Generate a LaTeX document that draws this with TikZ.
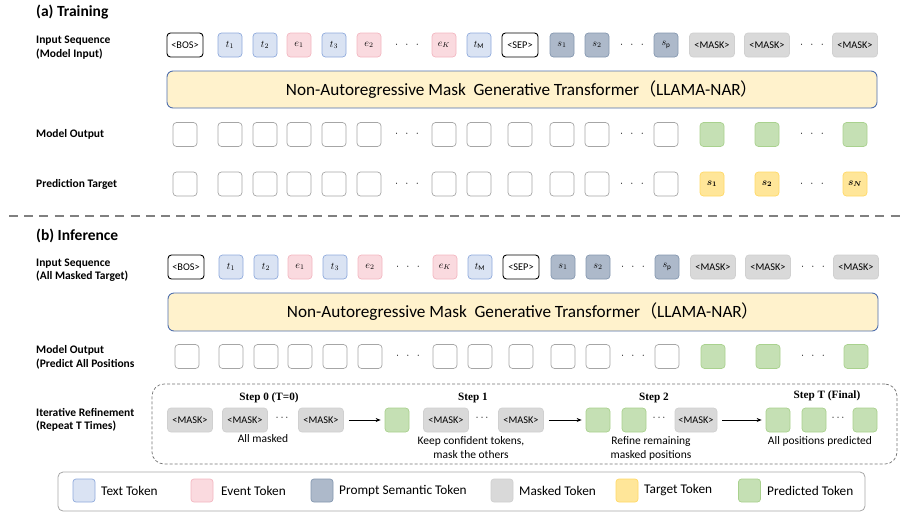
\documentclass[tikz,border=0pt]{standalone}
\usepackage{amsmath}
\usepackage{bm}
\usepackage{fontspec}
\setmainfont{Carlito}
\newfontfamily\cjk{Noto Sans CJK SC}
\newfontfamily\serifb{Liberation Serif}
\usetikzlibrary{arrows.meta}
\definecolor{tfill}{HTML}{DAE3F3}\definecolor{tdraw}{HTML}{8FAADC}
\definecolor{efill}{HTML}{FADADF}\definecolor{edraw}{HTML}{F3B7C1}
\definecolor{pfill}{HTML}{ADB9CA}\definecolor{pdraw}{HTML}{8497B0}
\definecolor{mfill}{HTML}{D9D9D9}\definecolor{mdraw}{HTML}{D0D0D0}
\definecolor{yfill}{HTML}{FFE699}\definecolor{ydraw}{HTML}{FFD966}
\definecolor{gfill}{HTML}{C5E0B4}\definecolor{gdraw}{HTML}{A9D18E}
\definecolor{edgegray}{HTML}{A6A6A6}
\definecolor{nfill}{HTML}{FFF2CC}\definecolor{ndraw}{HTML}{4F6FAD}
\tikzset{
  tok/.style={rectangle, rounded corners=3.5pt, minimum width=24pt, minimum height=24pt, inner sep=0pt, line width=0.7pt, font=\fontsize{10.3}{11}\selectfont},
  txtok/.style={tok, fill=tfill, draw=tdraw},
  evtok/.style={tok, fill=efill, draw=edraw},
  prtok/.style={tok, fill=pfill, draw=pdraw},
  mktok/.style={tok, fill=mfill, draw=mdraw, minimum width=45pt},
  tgtok/.style={tok, fill=yfill, draw=ydraw},
  pdtok/.style={tok, fill=gfill, draw=gdraw},
  emtok/.style={tok, fill=white, draw=edgegray},
  sptok/.style={tok, fill=white, draw=black, line width=0.9pt, minimum width=36pt},
  dotsn/.style={inner sep=0pt, font=\fontsize{11}{11}\selectfont},
  rowlabel/.style={anchor=west, align=left, inner sep=0pt, font=\bfseries\fontsize{11.5}{13.5}\selectfont},
  sectitle/.style={anchor=west, inner sep=0pt, font=\bfseries\fontsize{15.5}{17}\selectfont},
  nar/.style={rectangle, rounded corners=6pt, fill=nfill, draw=ndraw, line width=0.9pt, inner sep=0pt, font=\fontsize{17.2}{19}\selectfont},
  steplab/.style={inner sep=0pt, font=\serifb\bfseries\fontsize{11.2}{12}\selectfont},
  note/.style={inner sep=0pt, align=center, font=\fontsize{11.5}{14}\selectfont},
  legtxt/.style={anchor=west, inner sep=0pt, font=\fontsize{13.3}{15}\selectfont},
  legsw/.style={rectangle, rounded corners=3pt, minimum width=22pt, minimum height=23pt, inner sep=0pt, line width=0.7pt},
  arr/.style={-{Stealth[length=5pt,width=4pt]}, line width=0.8pt, shorten <=5pt, shorten >=4pt}
}
\newcommand{\mdot}{$\cdot\;\,\cdot\;\,\cdot$}
\begin{document}
\begin{tikzpicture}[x=1pt,y=-1pt]
\useasboundingbox (0,0) rectangle (902,515);
% ---------- (a) Training ----------
\node[sectitle] (ta) at (36,12) {(a) Training};
\node[rowlabel] (la1) at (36,47.5) {Input Sequence\\(Model Input)};
\node[rowlabel] (la2) at (36,134) {Model Output};
\node[rowlabel] (la3) at (36,184) {Prediction Target};

% input row (a)
\node[sptok] (inBOS) at (185,45) {<BOS>};
\node[txtok] (inT1) at (230,45) {$t_1$};
\node[txtok] (inT2) at (265,45) {$t_2$};
\node[evtok] (inE1) at (299,45) {$e_1$};
\node[txtok] (inT3) at (334,45) {$t_3$};
\node[evtok] (inE2) at (369,45) {$e_2$};
\node[dotsn] (inD1) at (407,45) {\mdot};
\node[evtok] (inEK) at (444,45) {$e_K$};
\node[txtok] (inTM) at (479,45) {$t_{\mathrm{M}}$};
\node[sptok] (inSEP) at (520,45) {<SEP>};
\node[prtok] (inS1) at (562,45) {$s_1$};
\node[prtok] (inS2) at (597,45) {$s_2$};
\node[dotsn] (inD2) at (632,45) {\mdot};
\node[prtok] (inSP) at (666,45) {$s_{\mathrm{p}}$};
\node[mktok] (inM1) at (712,45) {<MASK>};
\node[mktok] (inM2) at (767,45) {<MASK>};
\node[dotsn] (inD3) at (812,45) {\mdot};
\node[mktok] (inM3) at (855,45) {<MASK>};

\node[nar, minimum width=710pt, minimum height=37pt] (narA) at (522,89.5) {Non-Autoregressive Mask\ \ Generative Transformer{\cjk （}LLAMA-NAR{\cjk ）}};

% model output row (a)
\node[emtok] (outA) at (185,134.5) {};
\node[emtok] (outB) at (230,134.5) {};
\node[emtok] (outC) at (265,134.5) {};
\node[emtok] (outD) at (299,134.5) {};
\node[emtok] (outE) at (334,134.5) {};
\node[emtok] (outF) at (369,134.5) {};
\node[emtok] (outG) at (444,134.5) {};
\node[emtok] (outH) at (479,134.5) {};
\node[emtok] (outI) at (520,134.5) {};
\node[emtok] (outJ) at (562,134.5) {};
\node[emtok] (outK) at (597,134.5) {};
\node[emtok] (outL) at (666,134.5) {};
\node[dotsn] (outd1) at (407,134.5) {\mdot};
\node[dotsn] (outd2) at (632,134.5) {\mdot};
\node[dotsn] (outd3) at (812,134.5) {\mdot};
\node[pdtok] (outP1) at (712,134.5) {};
\node[pdtok] (outP2) at (767,134.5) {};
\node[pdtok] (outP3) at (855,134.5) {};

% prediction target row (a)
\node[emtok] (tgA) at (185,184) {};
\node[emtok] (tgB) at (230,184) {};
\node[emtok] (tgC) at (265,184) {};
\node[emtok] (tgD) at (299,184) {};
\node[emtok] (tgE) at (334,184) {};
\node[emtok] (tgF) at (369,184) {};
\node[emtok] (tgG) at (444,184) {};
\node[emtok] (tgH) at (479,184) {};
\node[emtok] (tgI) at (520,184) {};
\node[emtok] (tgJ) at (562,184) {};
\node[emtok] (tgK) at (597,184) {};
\node[emtok] (tgL) at (666,184) {};
\node[dotsn] (tgd1) at (407,184) {\mdot};
\node[dotsn] (tgd2) at (632,184) {\mdot};
\node[dotsn] (tgd3) at (812,184) {\mdot};
\node[tgtok] (tgY1) at (712,184) {$\bm{s_1}$};
\node[tgtok] (tgY2) at (767,184) {$\bm{s_2}$};
\node[tgtok] (tgY3) at (855,184) {$\bm{s_N}$};

% separator
\coordinate (sepL) at (9,216);
\coordinate (sepR) at (902,216);
\draw[draw=black!50, line width=2pt, dash pattern=on 9pt off 6.2pt] (sepL) -- (sepR);

% ---------- (b) Inference ----------
\node[sectitle] (tb) at (36,236) {(b) Inference};
\node[rowlabel] (lb1) at (36,270) {Input Sequence\\(All Masked Target)};
\node[rowlabel] (lb2) at (36,357.5) {Model Output\\(Predict All Positions};
\node[rowlabel] (lb3) at (36,420) {Iterative Refinement\\(Repeat T Times)};

\node[sptok] (b-bos) at (186,267) {<BOS>};
\node[txtok] (b-t1) at (231,267) {$t_1$};
\node[txtok] (b-t2) at (266,267) {$t_2$};
\node[evtok] (b-e1) at (300,267) {$e_1$};
\node[txtok] (b-t3) at (335,267) {$t_3$};
\node[evtok] (b-e2) at (370,267) {$e_2$};
\node[dotsn] (b-d1) at (408,267) {\mdot};
\node[evtok] (b-ek) at (445,267) {$e_K$};
\node[txtok] (b-tm) at (480,267) {$t_{\mathrm{M}}$};
\node[sptok] (b-sep) at (521,267) {<SEP>};
\node[prtok] (b-s1) at (563,267) {$s_1$};
\node[prtok] (b-s2) at (598,267) {$s_2$};
\node[dotsn] (b-d2) at (633,267) {\mdot};
\node[prtok] (b-sp) at (667,267) {$s_{\mathrm{p}}$};
\node[mktok] (b-m1) at (713,267) {<MASK>};
\node[mktok] (b-m2) at (768,267) {<MASK>};
\node[dotsn] (b-d3) at (813,267) {\mdot};
\node[mktok] (b-m3) at (856,267) {<MASK>};

\node[nar, minimum width=710pt, minimum height=38pt] (b-nar) at (523,312) {Non-Autoregressive Mask\ \ Generative Transformer{\cjk （}LLAMA-NAR{\cjk ）}};

\node[emtok] (b-o1) at (187,356.5) {};
\node[emtok] (b-o2) at (231,356.5) {};
\node[emtok] (b-o3) at (266,356.5) {};
\node[emtok] (b-o4) at (300,356.5) {};
\node[emtok] (b-o5) at (335,356.5) {};
\node[emtok] (b-o6) at (370,356.5) {};
\node[emtok] (b-o7) at (445,356.5) {};
\node[emtok] (b-o8) at (480,356.5) {};
\node[emtok] (b-o9) at (521,356.5) {};
\node[emtok] (b-o10) at (563,356.5) {};
\node[emtok] (b-o11) at (598,356.5) {};
\node[emtok] (b-o12) at (667,356.5) {};
\node[dotsn] (b-od1) at (408,356.5) {\mdot};
\node[dotsn] (b-od2) at (633,356.5) {\mdot};
\node[dotsn] (b-od3) at (813,356.5) {\mdot};
\node[pdtok] (b-p1) at (713,356.5) {};
\node[pdtok] (b-p2) at (768,356.5) {};
\node[pdtok] (b-p3) at (856,356.5) {};

% iterative refinement box
\node[draw=black!55, dash pattern=on 3pt off 2pt, line width=0.7pt, rounded corners=12pt, minimum width=745pt, minimum height=80pt, inner sep=0pt] (irbox) at (524.5,424) {};

\node[steplab] (st0) at (269,398) {Step 0 (T=0)};
\node[mktok] (r-m1) at (190,420) {<MASK>};
\node[mktok] (r-m2) at (245,420) {<MASK>};
\node[dotsn] (r-d1) at (283,418) {$\cdots$};
\node[mktok] (r-m3) at (321,420) {<MASK>};
\node[note] (n0) at (263,439) {All masked};

\node[pdtok] (r-g1) at (397,420) {};
\node[steplab] (st1) at (473,398) {Step 1};
\node[mktok] (r-m4) at (446,420) {<MASK>};
\node[dotsn] (r-d2) at (483,418) {$\cdots$};
\node[mktok] (r-m5) at (521,420) {<MASK>};
\node[note] (n1) at (471,448) {Keep confident tokens,\\mask the others};

\node[pdtok] (r-g2) at (598,420) {};
\node[pdtok] (r-g3) at (634,420) {};
\node[steplab] (st2) at (654,398) {Step 2};
\node[dotsn] (r-d3) at (660,418) {$\cdots$};
\node[mktok, minimum width=42pt] (r-m6) at (696,420) {<MASK>};
\node[note] (n2) at (651,448) {Refine remaining\\masked positions};

\node[pdtok] (r-g4) at (778,420) {};
\node[pdtok] (r-g5) at (814,420) {};
\node[dotsn] (r-d4) at (839,418) {$\cdots$};
\node[pdtok] (r-g6) at (865,420) {};
\node[steplab] (st3) at (827,396) {Step T (Final)};
\node[note] (n3) at (820,441) {All positions predicted};

\draw[arr] (r-m3) -- (r-g1);
\draw[arr] (r-m5) -- (r-g2);
\draw[arr] (r-m6) -- (r-g4);

% ---------- legend ----------
\node[draw=edgegray, line width=0.8pt, rounded corners=5pt, minimum width=807pt, minimum height=39pt, inner sep=0pt] (legend) at (461.5,491.5) {};
\node[legsw, fill=tfill, draw=tdraw] (lg1) at (84,490.5) {};
\node[legtxt] (lt1) at (101,490.5) {Text Token};
\node[legsw, fill=efill, draw=edraw] (lg2) at (202,490.5) {};
\node[legtxt] (lt2) at (221,490.5) {Event Token};
\node[legsw, fill=pfill, draw=pdraw] (lg3) at (322,490.5) {};
\node[legtxt] (lt3) at (339,490.5) {Prompt Semantic Token};
\node[legsw, fill=mfill, draw=mdraw] (lg4) at (502,490.5) {};
\node[legtxt] (lt4) at (519,490.5) {Masked Token};
\node[legsw, fill=yfill, draw=ydraw] (lg5) at (627,490.5) {};
\node[legtxt] (lt5) at (644,490.5) {Target Token};
\node[legsw, fill=gfill, draw=gdraw] (lg6) at (749.5,490.5) {};
\node[legtxt] (lt6) at (767,490.5) {Predicted Token};
\end{tikzpicture}
\end{document}
